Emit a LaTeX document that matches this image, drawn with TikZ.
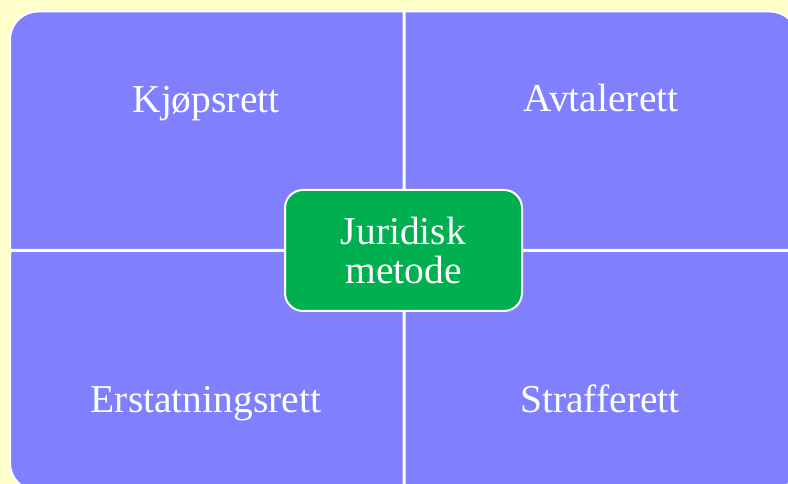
\documentclass[tikz,border=0pt]{standalone}
\usepackage{fontspec}
\setmainfont{Liberation Serif}
\usepackage{xcolor}
\usepackage{tikz}
\usetikzlibrary{positioning}
\definecolor{bgyellow}{HTML}{FFFFCC}
\definecolor{quadblue}{HTML}{8080FF}
\definecolor{hubgreen}{HTML}{00B050}
\tikzstyle{quad} = [fill=quadblue, draw=white, line width=2pt]
\tikzstyle{label} = [text=white, inner sep=0pt, anchor=base, font=\fontsize{39.5}{40}\selectfont]
\tikzstyle{hub} = [rectangle, draw=white, line width=2pt, fill=hubgreen, rounded corners=18pt, minimum width=237pt, minimum height=121pt, text=white, align=center, font=\fontsize{39.5}{39}\selectfont]

\begin{document}
\begin{tikzpicture}[x=1pt, y=1pt]
            % Background
            \fill[bgyellow] (0,0) rectangle (788,484);
            \useasboundingbox (0,0) rectangle (788,484);

            % Quadrants
            \draw[quad] (403.5,234) -- (10,234) -- (10,444.5) arc[start angle=180, end angle=90, radius=28] -- (403.5,472.5) -- cycle;
            \draw[quad] (404.5,234) -- (798,234) -- (798,444.5) arc[start angle=0, end angle=90, radius=28] -- (404.5,472.5) -- cycle;
            \draw[quad] (403.5,233) -- (10,233) -- (10,21) arc[start angle=180, end angle=270, radius=28] -- (403.5,-7) -- cycle;
            \draw[quad] (404.5,233) -- (798,233) -- (798,21) arc[start angle=0, end angle=-90, radius=28] -- (404.5,-7) -- cycle;

            % Labels
            \node[label] (kjop) at (206,371) {Kjøpsrett};
            \node[label] (avtale) at (601,372) {Avtalerett};
            \node[label] (erstatning) at (206,71) {Erstatningsrett};
            \node[label] (straff) at (600,71) {Strafferett};

            % Centre
            \node[hub] (metode) at (403.5,233.5) {Juridisk\\metode};
        \end{tikzpicture}
\end{document}
